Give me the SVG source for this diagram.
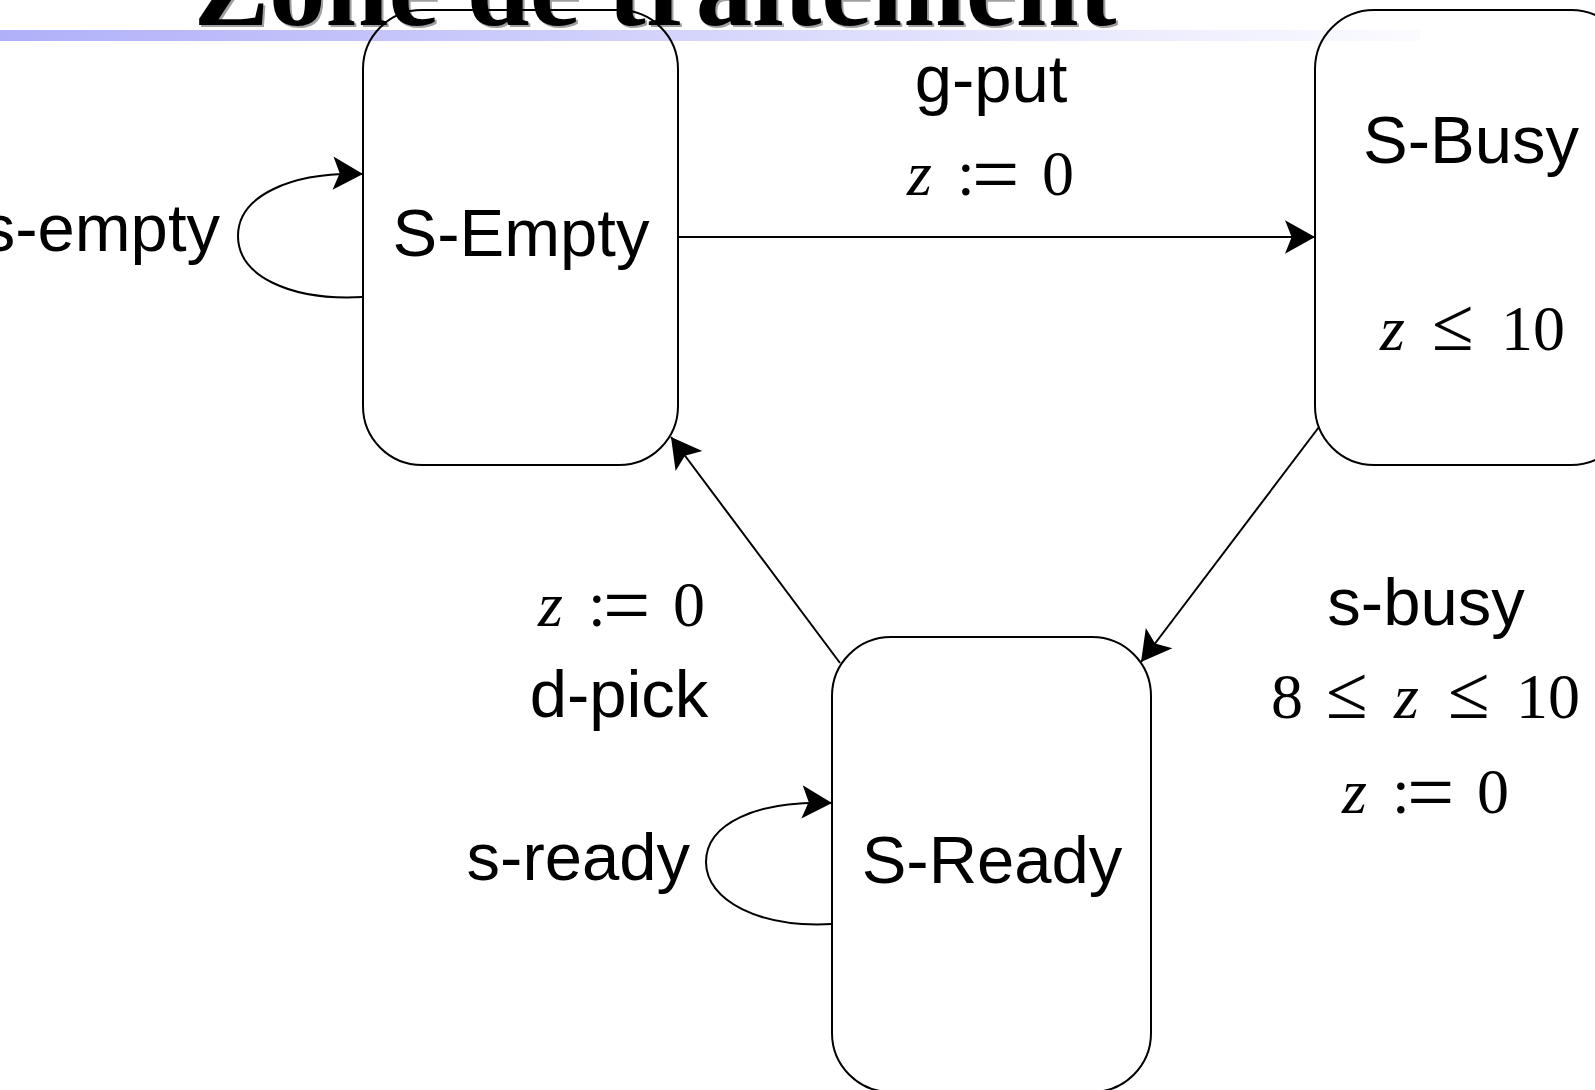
<svg xmlns="http://www.w3.org/2000/svg" width="1595" height="1090" viewBox="0 0 1595 1090">
  <defs>
    <linearGradient id="barGrad" x1="0" y1="0" x2="1420" y2="0" gradientUnits="userSpaceOnUse">
      <stop offset="0" stop-color="#b0b0f9"/>
      <stop offset="1" stop-color="#fbfbff"/>
    </linearGradient>
    <marker id="arrow" markerUnits="userSpaceOnUse" markerWidth="40" markerHeight="40" viewBox="-30 -18 32 36" refX="0" refY="0" orient="auto">
      <path d="M0,0 L-27,-15 L-21,0 L-27,15 Z" fill="#000"/>
    </marker>
    <style>
      .title { font-family: "Liberation Serif", "Times New Roman", serif; font-weight: bold; font-size: 113px; }
      .node { fill: none; stroke: #000; stroke-width: 2; }
      .edge { fill: none; stroke: #000; stroke-width: 2; marker-end: url(#arrow); }
      .lbl { font-family: "Liberation Sans", Arial, sans-serif; font-size: 67px; fill: #000; }
      .math { font-family: "Liberation Serif", "Times New Roman", serif; font-size: 64px; fill: #000; }
      .mi { font-style: italic; }
      .op { font-size: 84px; }
      .le { font-family: "Liberation Serif", "DejaVu Serif", serif; font-size: 76px; }
    </style>
  </defs>

  <rect width="1595" height="1090" fill="#fff"/>

  <!-- slide title with shadow and gradient rule -->
  <g id="title">
    <text class="title" x="657" y="27" text-anchor="middle" fill="#a0a0a0">Zone de traitement</text>
    <text class="title" x="655" y="25" text-anchor="middle" fill="#000">Zone de traitement</text>
    <rect x="0" y="30" width="1420" height="11" fill="url(#barGrad)"/>
  </g>

  <!-- locations -->
  <g id="s-empty">
    <rect class="node" x="363" y="10" width="315" height="455" rx="59" ry="59"/>
    <text class="lbl" x="521" y="256" text-anchor="middle">S-Empty</text>
  </g>

  <g id="s-busy">
    <rect class="node" x="1315" y="10" width="315" height="455" rx="59" ry="59"/>
    <text class="lbl" x="1471" y="163" text-anchor="middle">S-Busy</text>
    <text class="math" y="350"><tspan class="mi" x="1380">z</tspan><tspan class="le" x="1432">≤</tspan><tspan x="1501">10</tspan></text>
  </g>

  <g id="s-ready">
    <rect class="node" x="832" y="637" width="319" height="455" rx="59" ry="59"/>
    <text class="lbl" x="992" y="883" text-anchor="middle">S-Ready</text>
  </g>

  <!-- transitions -->
  <g id="connectors">
    <path class="edge" d="M678,237 L1315,237"/>
    <path class="edge" d="M1319,427 L1141,662"/>
    <path class="edge" d="M840,663 L671,437"/>
    <path class="edge" d="M363,297 C290,301 238,276 238,236 C238,196 290,172 363,174"/>
    <path class="edge" d="M832,924 C760,928 706,901 706,862 C706,824 756,800 832,803"/>
  </g>

  <!-- transition labels -->
  <g id="labels">
    <text class="lbl" x="991" y="102" text-anchor="middle">g-put</text>
    <text class="math" y="195"><tspan class="mi" x="907">z</tspan><tspan x="957">:</tspan><tspan class="op" x="972" y="203">=</tspan><tspan x="1042" y="195">0</tspan></text>

    <text class="lbl" x="1426" y="625" text-anchor="middle">s-busy</text>
    <text class="math" y="718"><tspan x="1271">8</tspan><tspan class="le" x="1326">≤</tspan><tspan class="mi" x="1394">z</tspan><tspan class="le" x="1448">≤</tspan><tspan x="1516">10</tspan></text>
    <text class="math" y="813"><tspan class="mi" x="1342">z</tspan><tspan x="1392">:</tspan><tspan class="op" x="1407" y="821">=</tspan><tspan x="1477" y="813">0</tspan></text>

    <text class="math" y="626"><tspan class="mi" x="538">z</tspan><tspan x="588">:</tspan><tspan class="op" x="603" y="634">=</tspan><tspan x="673" y="626">0</tspan></text>
    <text class="lbl" x="619" y="717" text-anchor="middle">d-pick</text>

    <text class="lbl" x="220" y="251" text-anchor="end">s-empty</text>
    <text class="lbl" x="690" y="880" text-anchor="end">s-ready</text>
  </g>
</svg>
